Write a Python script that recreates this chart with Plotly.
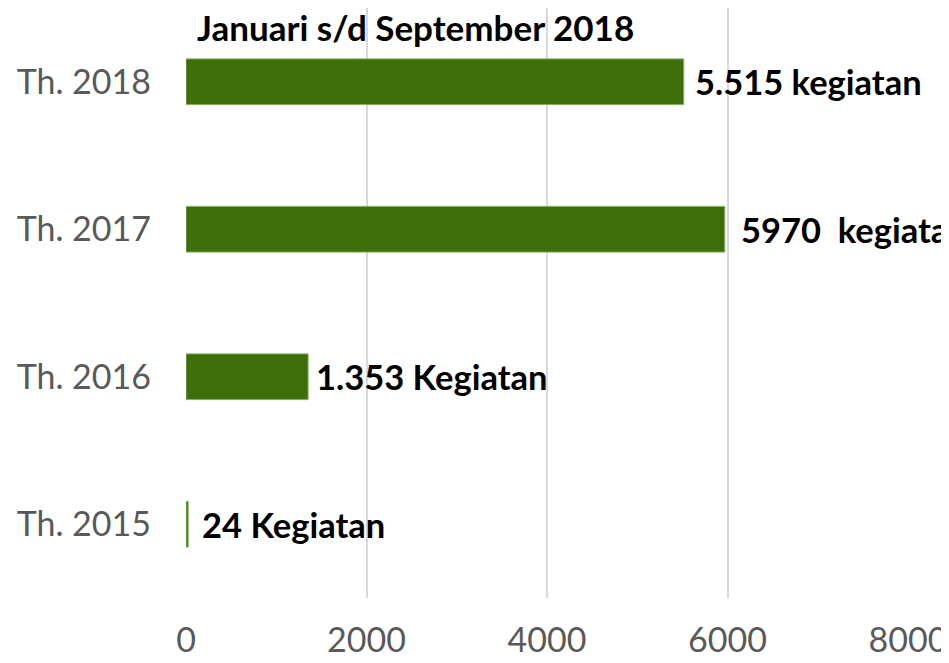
import plotly.graph_objects as go

years = ["Th. 2015", "Th. 2016", "Th. 2017", "Th. 2018"]
counts = [24, 1353, 5970, 5515]
labels = ["24 Kegiatan", "1.353 Kegiatan", "5970&nbsp; kegiatan", "5.515 kegiatan"]
label_gap = [12, 6, 14, 9]  # px between bar end and label
x_ticks = [0, 2000, 4000, 6000, 8000]

BAR_GREEN = "#3e6e0a"
GREY = "#595959"
FONT = "Lato, Open Sans, sans-serif"

fig = go.Figure()
fig.add_trace(go.Bar(
    x=counts, y=years, orientation="h", width=0.31,
    marker=dict(color=BAR_GREEN, line=dict(color="#86ad66", width=1)),
    hoverinfo="skip",
))

for val, cat, txt, gap in zip(counts, years, labels, label_gap):
    fig.add_annotation(
        x=val, y=cat, xref="x", yref="y", text=f"<b>{txt}</b>",
        showarrow=False, xanchor="left", yanchor="middle", xshift=gap,
        font=dict(family=FONT, size=34.5, color="black"),
    )

fig.add_annotation(
    x=0, y=1, xref="paper", yref="paper", text="<b>Januari s/d September 2018</b>",
    showarrow=False, xanchor="left", yanchor="top", xshift=9, yshift=4,
    font=dict(family=FONT, size=35, color="black"),
)

# page body has an 8px margin, so the figure is a bit smaller than the window
fig.update_layout(
    width=941, height=655,
    margin=dict(l=178, r=41, t=0, b=65, autoexpand=False),
    plot_bgcolor="white", paper_bgcolor="white",
    showlegend=False,
    font=dict(family=FONT, color=GREY),
)
fig.update_xaxes(
    range=[0, 8000], tickvals=x_ticks, showgrid=True, gridcolor="#d9d9d9", gridwidth=1.5,
    zeroline=False, showline=False, ticks="", tickfont=dict(size=34, color=GREY),
    ticklabelstandoff=19, automargin=False,
)
fig.update_yaxes(
    categoryorder="array", categoryarray=years, range=[-0.5, 3.5],
    showgrid=False, zeroline=False, showline=False, ticks="",
    tickfont=dict(size=34, color=GREY), ticklabelstandoff=34, automargin=False,
)

fig.write_html("out.html")
